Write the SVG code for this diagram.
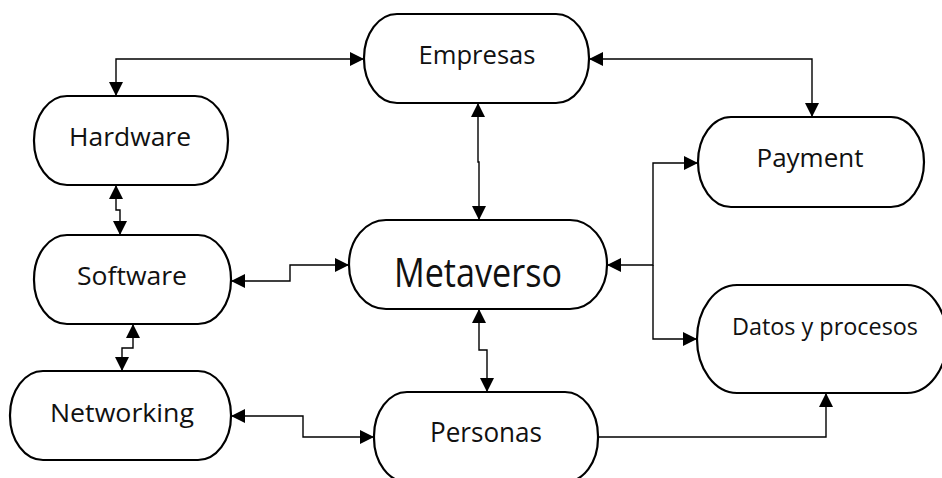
<svg xmlns="http://www.w3.org/2000/svg" width="942" height="478" viewBox="0 0 942 478">
<defs>
<marker id="arr" viewBox="0 0 14 14" refX="14" refY="7" markerWidth="14" markerHeight="14" markerUnits="userSpaceOnUse" orient="auto-start-reverse">
<path d="M0,0 L14,7 L0,14 z" fill="#000"/>
</marker>
<style>
.box{fill:#fff;stroke:#000;stroke-width:2.2}
.lbl{font-family:"Open Sans","Noto Sans",sans-serif;fill:#111;text-anchor:middle}
.c{fill:none;stroke:#000;stroke-width:1.4}
.b{marker-start:url(#arr);marker-end:url(#arr)}
.e{marker-end:url(#arr)}
</style>
</defs>
<rect width="942" height="478" fill="#fff"/>
<g id="connectors">
<path class="c b" d="M364,59 H116 V96"/>
<path class="c b" d="M589,59 H812 V117"/>
<path class="c b" d="M478,103 V162 H479 V220"/>
<path class="c b" d="M116,185 V210 H120 V235"/>
<path class="c b" d="M231,281 H290 V265 H349"/>
<path class="c b" d="M133,324 V348 H122 V371"/>
<path class="c b" d="M231,416 H303 V437 H374"/>
<path class="c b" d="M479,309 V350 H487 V392"/>
<path class="c b" d="M607,265 H653 V163 H698"/>
<path class="c e" d="M653,265 V339 H697"/>
<path class="c e" d="M598,437 H826 V393"/>
</g>
<g id="empresas">
<rect class="box" x="364" y="14" width="225" height="89" rx="33" ry="44"/>
<text class="lbl" x="477" y="64" font-size="26" textLength="117" lengthAdjust="spacingAndGlyphs">Empresas</text>
</g>
<g id="hardware">
<rect class="box" x="34" y="96" width="194" height="89" rx="33" ry="44"/>
<text class="lbl" x="130" y="146" font-size="25" textLength="122" lengthAdjust="spacingAndGlyphs">Hardware</text>
</g>
<g id="software">
<rect class="box" x="34" y="235" width="197" height="89" rx="33" ry="44"/>
<text class="lbl" x="132" y="285" font-size="26" textLength="110" lengthAdjust="spacingAndGlyphs">Software</text>
</g>
<g id="networking">
<rect class="box" x="10" y="371" width="221" height="89" rx="33" ry="44"/>
<text class="lbl" x="122" y="422" font-size="26" textLength="144" lengthAdjust="spacingAndGlyphs">Networking</text>
</g>
<g id="metaverso">
<rect class="box" x="349" y="220" width="258" height="89" rx="37" ry="44"/>
<text class="lbl" x="478" y="287" font-size="41" textLength="168" lengthAdjust="spacingAndGlyphs">Metaverso</text>
</g>
<g id="personas">
<rect class="box" x="374" y="392" width="224" height="90" rx="33" ry="44"/>
<text class="lbl" x="486" y="442" font-size="27" textLength="112" lengthAdjust="spacingAndGlyphs">Personas</text>
</g>
<g id="payment">
<rect class="box" x="698" y="117" width="226" height="90" rx="33" ry="45"/>
<text class="lbl" x="810" y="167" font-size="26" textLength="107" lengthAdjust="spacingAndGlyphs">Payment</text>
</g>
<g id="datos">
<rect class="box" x="697" y="285" width="250" height="108" rx="40" ry="54"/>
<text class="lbl" x="825" y="335" font-size="24" textLength="186" lengthAdjust="spacingAndGlyphs">Datos y procesos</text>
</g>
</svg>
